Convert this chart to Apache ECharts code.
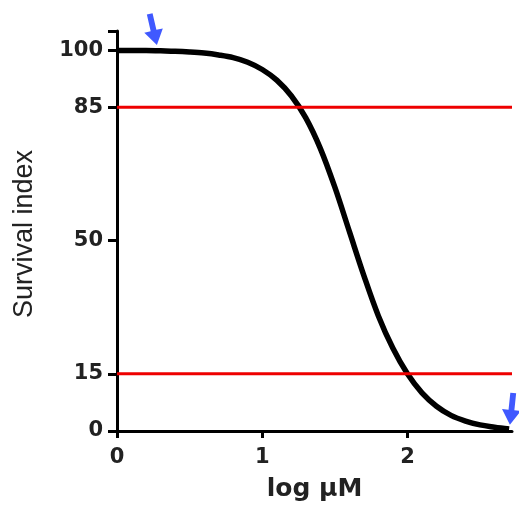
<!DOCTYPE html>
<html>
<head>
<meta charset="utf-8">
<script src="https://cdn.jsdelivr.net/npm/echarts@6/dist/echarts.min.js"></script>
<style>
html, body { margin: 0; padding: 0; background: #fff; }
#chart { width: 519px; height: 507px; }
</style>
</head>
<body>
<div id="chart"></div>
<script>
// curve
let logDose = [0, 0.1, 0.2, 0.3, 0.4, 0.5, 0.6, 0.7, 0.8, 0.9, 1.0, 1.1, 1.2, 1.3,
               1.4, 1.5, 1.6, 1.7, 1.8, 1.9, 2.0, 2.1, 2.2, 2.3, 2.4, 2.5, 2.6, 2.7];
let survival = [99.9, 99.9, 99.9, 99.8, 99.7, 99.5, 99.2, 98.7, 98.0, 96.8, 94.9, 92.1,
                88.0, 82.2, 74.2, 64.0, 52.4, 40.8, 30.2, 21.7, 15.0, 10.0, 6.5, 4.1,
                2.6, 1.6, 1.0, 0.5];
let thresholds = [85, 15];
let xRange = [0, 2.72];
let yTicks = [0, 15, 50, 85, 100];
let xTicks = [0, 1, 2];
// arrow annotations [x, y, rotation]
let arrows = [[0.25, 105.4, 13], [2.717, 5.8, -6]];

let chart = echarts.init(document.getElementById('chart'));
let font = 'Liberation Sans, Arial, sans-serif';
let tickFont = 'DejaVu Sans, sans-serif';
let arrowPath = 'path://M4.5,0 L8.5,0 L8.5,16 L13,16 L6.5,30 L0,16 L4.5,16 Z';

let series = [
    {
        type: 'line',
        data: logDose.map((x, i) => [x, survival[i]]),
        smooth: 0.35,
        showSymbol: false,
        lineStyle: { color: '#000', width: 5.5 },
        z: 3
    }
];
thresholds.forEach(t => {
    series.push({
        type: 'line',
        data: xRange.map(x => [x, t]),
        showSymbol: false,
        lineStyle: { color: '#ee0000', width: 3 },
        z: 4
    });
});
series.push({
    type: 'scatter',
    clip: false,
    data: arrows.map(a => ({ value: [a[0], a[1]], symbolRotate: a[2] })),
    symbol: arrowPath,
    symbolSize: [19, 32],
    itemStyle: { color: '#1030ff' },
    z: 5
});

let option = {
    animation: false,
    backgroundColor: '#fff',
    grid: { left: 117, right: 7, top: 31, bottom: 75 },
    xAxis: {
        type: 'value',
        min: xRange[0],
        max: xRange[1],
        name: 'log μM',
        nameLocation: 'middle',
        nameGap: 46,
        nameTextStyle: { fontFamily: tickFont, fontWeight: 'bold', fontSize: 25, color: '#222' },
        splitLine: { show: false },
        axisLine: { lineStyle: { color: '#000', width: 3 } },
        axisTick: { customValues: xTicks, length: 7, lineStyle: { color: '#000', width: 3 } },
        axisLabel: {
            customValues: xTicks,
            margin: 16,
            fontFamily: tickFont, fontWeight: 'bold', fontSize: 21, color: '#222'
        }
    },
    yAxis: {
        type: 'value',
        min: 0,
        max: 105,
        splitLine: { show: false },
        axisLine: { lineStyle: { color: '#000', width: 3 } },
        axisTick: { customValues: yTicks.concat([105]), length: 9, lineStyle: { color: '#000', width: 3 } },
        axisLabel: {
            customValues: yTicks,
            margin: 14,
            fontFamily: tickFont, fontWeight: 'bold', fontSize: 21, color: '#222'
        }
    },
    graphic: [{
        type: 'text',
        x: 25,
        y: 234,
        rotation: Math.PI / 2,
        style: {
            text: 'Survival index',
            fontFamily: font,
            fontSize: 27,
            fill: '#222',
            textAlign: 'center',
            textVerticalAlign: 'middle'
        }
    }],
    series: series
};
chart.setOption(option);
</script>
</body>
</html>
